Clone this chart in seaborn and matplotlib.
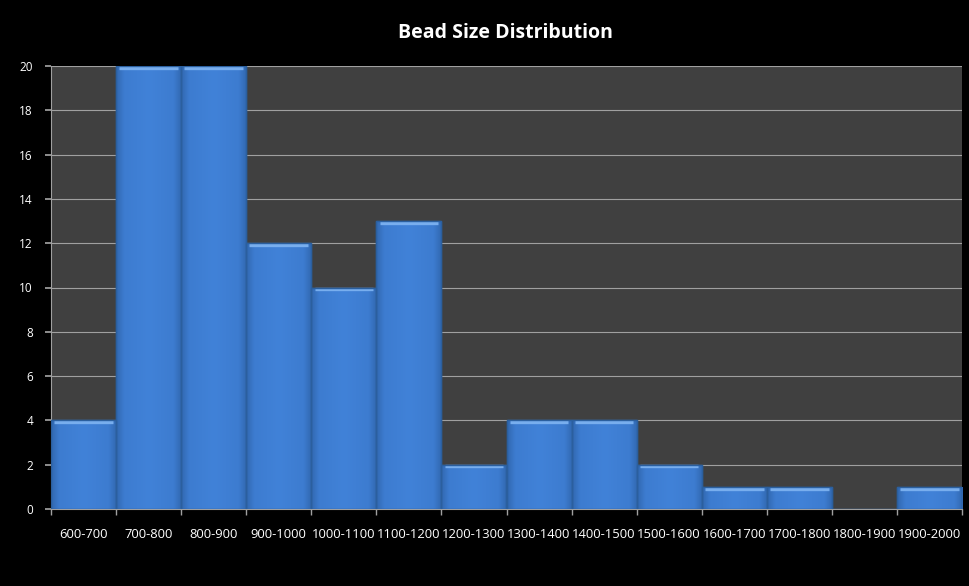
import matplotlib
matplotlib.use("Agg")
import matplotlib.pyplot as plt
import seaborn as sns
import numpy as np
import pandas as pd
from matplotlib.colors import LinearSegmentedColormap

# Bead size bins and counts
size_bins = ["600-700", "700-800", "800-900", "900-1000", "1000-1100", "1100-1200",
             "1200-1300", "1300-1400", "1400-1500", "1500-1600", "1600-1700",
             "1700-1800", "1800-1900", "1900-2000"]
counts = [4, 20, 20, 12, 10, 13, 2, 4, 4, 2, 1, 1, 0, 1]
y_ticks = [0, 2, 4, 6, 8, 10, 12, 14, 16, 18, 20]

df = pd.DataFrame({"bin": size_bins, "count": counts})

sns.set_theme(style="dark")
plt.rcParams["font.family"] = ["Open Sans", "DejaVu Sans"]

fig = plt.figure(figsize=(9.69, 5.86), dpi=100, facecolor="black")
ax = fig.add_axes([51 / 969, 1 - 509 / 586, 911 / 969, 443 / 586])
ax.set_facecolor("#404040")

sns.barplot(data=df, x="bin", y="count", color="#3d7fd5", width=1.0,
            saturation=1, ax=ax, edgecolor="#2b5f9e", linewidth=1.0, zorder=3)

# Soft shading toward the bar sides and a light bevel along the top of every bar
grad = LinearSegmentedColormap.from_list(
    "bar", [(0, "#3168b0"), (0.12, "#3d7cd0"), (0.5, "#4182d8"),
            (0.88, "#3d7cd0"), (1, "#3168b0")])
for p in list(ax.patches):
    x0, y0 = p.get_x(), p.get_y()
    w, h = p.get_width(), p.get_height()
    if h <= 0:
        continue
    img = ax.imshow(np.linspace(0, 1, 64).reshape(1, -1), cmap=grad, aspect="auto",
                    extent=(x0, x0 + w, y0, y0 + h), zorder=3.5, interpolation="bicubic")
    img.set_clip_path(p)
    ax.plot([x0 + 0.05, x0 + w - 0.05], [h - 0.08, h - 0.08], color="#78aeee",
            lw=2.4, solid_capstyle="butt", zorder=4)
    ax.add_patch(plt.Rectangle((x0, y0), w, h, fill=False, edgecolor="#2b5f9e",
                               lw=1.0, zorder=4.5))

ax.set_xlim(-0.5, len(size_bins) - 0.5)
ax.set_ylim(0, 20)
ax.set_yticks(y_ticks)
ax.yaxis.grid(True, color="#a0a0a0", lw=0.8, zorder=1)
ax.xaxis.grid(False)
ax.set_axisbelow(True)

ax.set_xlabel("")
ax.set_ylabel("")
ax.tick_params(axis="both", colors="white", labelsize=9.4)
ax.tick_params(axis="x", length=0, pad=14)
ax.tick_params(axis="y", length=4, color="#a0a0a0", left=True, pad=9, labelsize=8.5)
ax.set_xticks(np.arange(-0.5, len(size_bins)), minor=True)
ax.tick_params(axis="x", which="minor", length=4, color="#a0a0a0", bottom=True)

for side in ["top", "right"]:
    ax.spines[side].set_visible(False)
for side in ["left", "bottom"]:
    ax.spines[side].set_visible(True)
    ax.spines[side].set_color("#a0a0a0")
    ax.spines[side].set_linewidth(0.8)

fig.text(505 / 969, 1 - 33 / 586, "Bead Size Distribution", color="white",
         fontsize=14, fontweight="bold", ha="center", va="center")

fig.savefig("out.png", dpi=100, facecolor="black")
